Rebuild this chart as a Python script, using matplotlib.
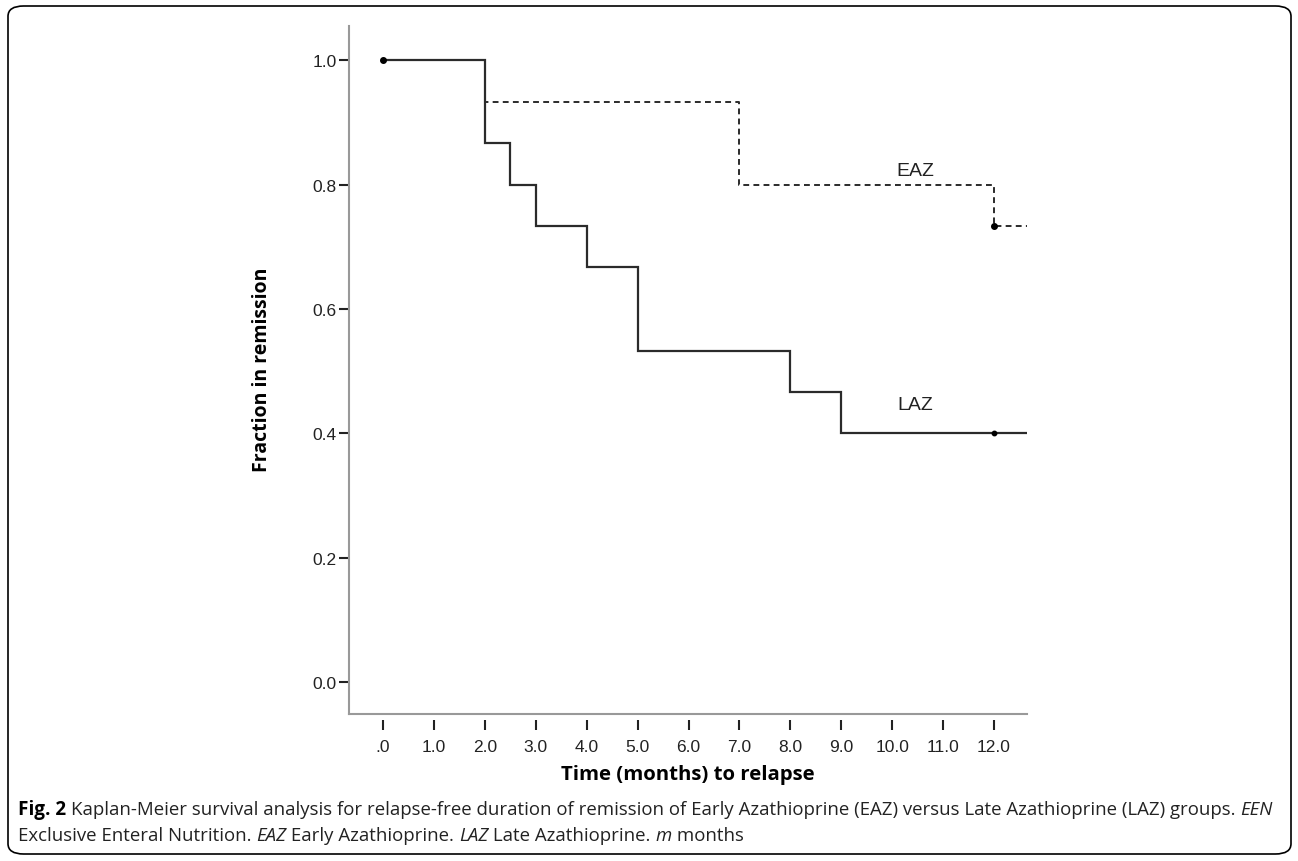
import matplotlib
matplotlib.use("Agg")
import matplotlib.pyplot as plt
from matplotlib.patches import FancyBboxPatch

# ---- data ----
laz_times = [0.0, 2.0, 2.5, 3.0, 4.0, 5.0, 8.0, 9.0]
laz_surv = [1.0, 0.867, 0.800, 0.733, 0.667, 0.533, 0.467, 0.400]
laz_censor_t = [12.0]
laz_censor_s = [0.400]

eaz_times = [0.0, 2.0, 7.0, 12.0]
eaz_surv = [1.0, 0.933, 0.800, 0.733]
eaz_censor_t = [0.0, 12.0]
eaz_censor_s = [1.0, 0.733]

x_ticks = [0, 1, 2, 3, 4, 5, 6, 7, 8, 9, 10, 11, 12]
x_labels = [".0", "1.0", "2.0", "3.0", "4.0", "5.0", "6.0", "7.0", "8.0", "9.0", "10.0", "11.0", "12.0"]
y_ticks = [0.0, 0.2, 0.4, 0.6, 0.8, 1.0]
y_labels = ["0.0", "0.2", "0.4", "0.6", "0.8", "1.0"]

x_max = 12.65
x_min = -0.67
y_min = -0.051
y_max = 1.055

W, H = 1298, 862
fig = plt.figure(figsize=(W / 100, H / 100), dpi=100)

# outer rounded frame
frame = FancyBboxPatch((8 / W, 7 / H), (1291 - 8) / W, (855 - 7) / H,
                       boxstyle="round,pad=0,rounding_size=0.012",
                       transform=fig.transFigure, fill=False,
                       edgecolor="black", linewidth=1.2)
fig.patches.append(frame)

ax = fig.add_axes([349 / W, 1 - 715 / H, (1027 - 349) / W, (715 - 27) / H])
ax.set_xlim(x_min, x_max)
ax.set_ylim(y_min, y_max)

line_col = "#2b2b2b"
ax.step(laz_times + [x_max], laz_surv + [laz_surv[-1]], where="post",
        color=line_col, lw=1.6, solid_joinstyle="miter")
ax.step(eaz_times + [x_max], eaz_surv + [eaz_surv[-1]], where="post",
        color=line_col, lw=1.4, linestyle=(0, (3, 2.2)))
ax.plot(laz_censor_t, laz_censor_s, "o", color="black", ms=3.2)
ax.plot(eaz_censor_t, eaz_censor_s, "o", color="black", ms=4)

ax.text(10.45, 0.823, "EAZ", fontsize=14, family="Liberation Sans",
        ha="center", va="center", color="#222222")
ax.text(10.45, 0.447, "LAZ", fontsize=14, family="Liberation Sans",
        ha="center", va="center", color="#222222")

for s in ["top", "right"]:
    ax.spines[s].set_visible(False)
ax.spines["left"].set_color("#999999")
ax.spines["left"].set_linewidth(1.5)
ax.spines["bottom"].set_position(("outward", 4))
ax.spines["bottom"].set_visible(False)
ax.axhline(y_min, color="#999999", lw=1.5, clip_on=False)

ax.set_xticks(x_ticks)
ax.set_xticklabels(x_labels)
ax.set_yticks(y_ticks)
ax.set_yticklabels(y_labels)
ax.tick_params(axis="x", direction="out", length=7, width=1.5, color="#222222",
               labelsize=12.5, pad=7)
ax.tick_params(axis="y", direction="out", length=7, width=1.5, color="#222222",
               labelsize=12.5, pad=2)
for lab in ax.get_xticklabels() + ax.get_yticklabels():
    lab.set_family("Liberation Sans")
    lab.set_color("#222222")

ax.set_xlabel("Time (months) to relapse", fontsize=14.7, fontweight="bold",
              family="Open Sans")
ax.set_ylabel("Fraction in remission", fontsize=14, fontweight="bold",
              family="Open Sans")
ax.xaxis.set_label_coords((688 - 349) / (1027 - 349), -(775 - 715) / (715 - 27))
ax.yaxis.set_label_coords(-(349 - 262) / (1027 - 349), (715 - 370) / (715 - 27))
ax.xaxis.label.set_va("center")
ax.yaxis.label.set_va("center")

# caption, drawn piece by piece
renderer = fig.canvas.get_renderer()
cap_size = 13.4
cap_col = "#222222"


def caption_line(pieces, x0, y):
    x = x0
    for txt, style, weight, size in pieces:
        t = fig.text(x / W, 1 - y / H, txt, fontsize=size, fontstyle=style,
                     fontweight=weight, family="Open Sans", va="center",
                     ha="left", color=cap_col if weight == "normal" else "black")
        bb = t.get_window_extent(renderer=renderer)
        x += bb.width


caption_line([
    ("Fig. 2 ", "normal", "bold", 13.6),
    ("Kaplan-Meier survival analysis for relapse-free duration of remission of Early Azathioprine (EAZ) versus Late Azathioprine (LAZ) groups. ",
     "normal", "normal", cap_size),
    ("EEN", "italic", "normal", cap_size),
], 18, 810)
caption_line([
    ("Exclusive Enteral Nutrition. ", "normal", "normal", cap_size),
    ("EAZ", "italic", "normal", cap_size),
    (" Early Azathioprine. ", "normal", "normal", cap_size),
    ("LAZ", "italic", "normal", cap_size),
    (" Late Azathioprine. ", "normal", "normal", cap_size),
    ("m", "italic", "normal", cap_size),
    (" months", "normal", "normal", cap_size),
], 18, 836)

fig.savefig("out.png", dpi=100)
